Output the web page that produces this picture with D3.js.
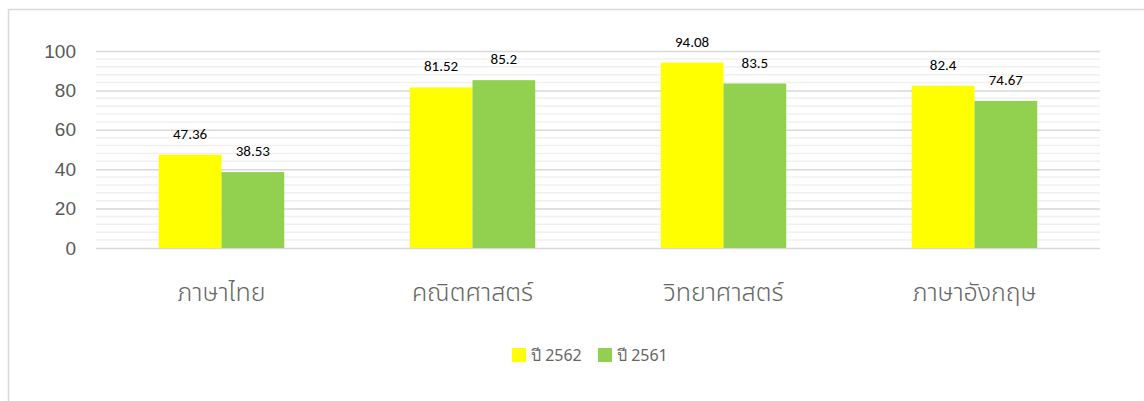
<!DOCTYPE html>
<html><head><meta charset="utf-8">
<script src="https://cdn.jsdelivr.net/npm/d3@7"></script>
<style>
html,body{margin:0;padding:0;background:#fff;}
svg{display:block;font-family:Calibri,"Liberation Sans","Noto Sans",sans-serif;}
</style></head><body>
<script>
const categories = ["ภาษาไทย","คณิตศาสตร์","วิทยาศาสตร์","ภาษาอังกฤษ"];
const seriesNames = ["ปี 2562","ปี 2561"];
const values2562 = [47.36, 81.52, 94.08, 82.4];
const values2561 = [38.53, 85.2, 83.5, 74.67];
const labels2562 = ["47.36","81.52","94.08","82.4"];
const labels2561 = ["38.53","85.2","83.5","74.67"];
const yTicks = [0,20,40,60,80,100];
const colors = ["#FFFF00","#92D050"];

const W=1144,H=401;
const svg=d3.select("body").append("svg").attr("width",W).attr("height",H);
// outer border
svg.append("rect").attr("x",8.5).attr("y",9.5).attr("width",W+20).attr("height",H+20)
  .attr("fill","none").attr("stroke","#d9d9d9").attr("stroke-width",1.5);

const x0=d3.scaleBand().domain(categories).range([96,1100]);
const y=d3.scaleLinear().domain([0,100]).range([248,51]);

// minor gridlines
const minor=d3.range(0,101,4).filter(v=>v%20!==0);
svg.append("g").selectAll("line").data(minor).join("line")
  .attr("x1",96).attr("x2",1100).attr("y1",d=>y(d)).attr("y2",d=>y(d))
  .attr("stroke","#f0f0f0").attr("stroke-width",1.5);
// major gridlines via axis
const yAxis=d3.axisLeft(y).tickValues(yTicks).tickSize(-(1100-96)).tickPadding(20);
const ga=svg.append("g").attr("transform","translate(96,0)").call(yAxis);
ga.select(".domain").remove();
ga.selectAll(".tick line").attr("stroke","#d9d9d9").attr("stroke-width",1.5);
ga.selectAll(".tick text").attr("fill","#595959").attr("font-size","19px").attr("font-family","'Liberation Sans',sans-serif");

const data=categories.map((c,i)=>({c,vals:[{s:0,v:values2562[i],l:labels2562[i]},{s:1,v:values2561[i],l:labels2561[i]}]}));
const bw=x0.bandwidth()*0.25;
const g=svg.append("g");
const cg=g.selectAll("g").data(data).join("g");
cg.selectAll("rect").data(d=>d.vals.map(o=>({...o,c:d.c}))).join("rect")
  .attr("x",d=>x0(d.c)+x0.bandwidth()/2+(d.s-1)*bw)
  .attr("width",bw).attr("y",d=>y(d.v)).attr("height",d=>y(0)-y(d.v))
  .attr("fill",d=>colors[d.s]);
cg.selectAll("text").data(d=>d.vals.map(o=>({...o,c:d.c}))).join("text")
  .attr("x",d=>x0(d.c)+x0.bandwidth()/2+(d.s-0.5)*bw)
  .attr("y",d=>y(d.v)-16).attr("text-anchor","middle")
  .attr("font-size","15px").attr("fill","#000").attr("font-family","Carlito,'Liberation Sans',sans-serif").text(d=>d.l);

// category axis labels
const xa=d3.axisBottom(x0).tickSize(0).tickPadding(0);
const gx=svg.append("g").attr("transform","translate(0,248)").call(xa);
gx.select(".domain").remove();
gx.selectAll(".tick text").attr("fill","#666").attr("font-size","25px")
  .attr("dy","0").attr("y",53).attr("font-family","'Noto Sans','Noto Sans Thai','DejaVu Sans',sans-serif").attr("font-weight","300");

// legend
const leg=svg.append("g");
const lx=[512,598];
seriesNames.forEach((n,i)=>{
  leg.append("rect").attr("x",lx[i]).attr("y",348).attr("width",14).attr("height",14).attr("fill",colors[i]);
  leg.append("text").attr("x",lx[i]+19).attr("y",361).attr("font-size","16px").attr("fill","#666")
    .attr("font-family","'Noto Sans','Liberation Sans',sans-serif").text(n);
});
</script></body></html>
